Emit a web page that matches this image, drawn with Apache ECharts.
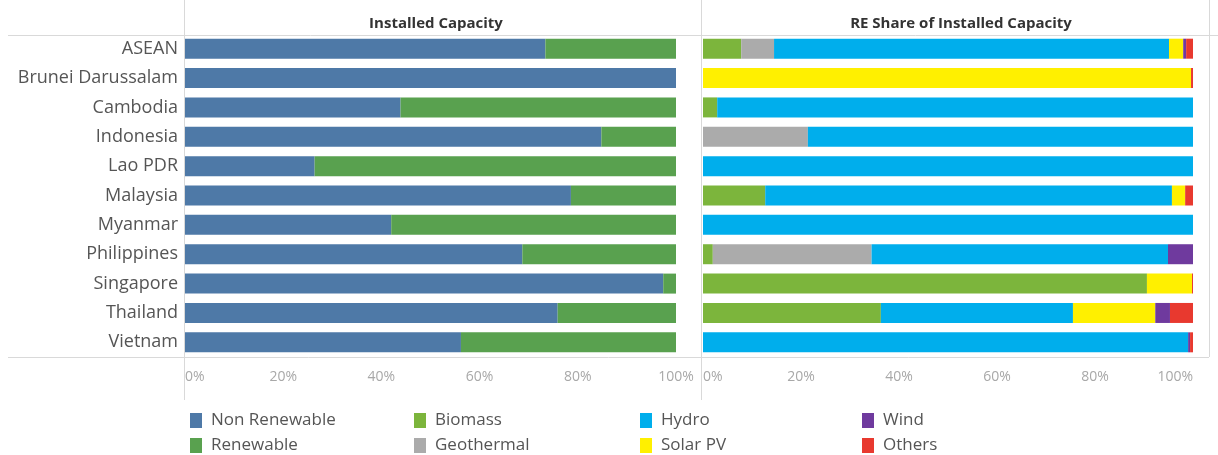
<!DOCTYPE html>
<html>
<head>
<meta charset="utf-8">
<script src="https://cdn.jsdelivr.net/npm/echarts@6/dist/echarts.min.js"></script>
<style>
  html, body { margin: 0; padding: 0; background: #ffffff; }
  #chart { width: 1218px; height: 455px; }
</style>
</head>
<body>
<div id="chart"></div>
<script>
// Countries, top to bottom
const categories = ['ASEAN', 'Brunei Darussalam', 'Cambodia', 'Indonesia', 'Lao PDR', 'Malaysia',
  'Myanmar', 'Philippines', 'Singapore', 'Thailand', 'Vietnam'];

// Installed capacity split (%)
const nonRenewable = [73.4, 100, 43.9, 84.8, 26.4, 78.6, 42.0, 68.7, 97.4, 75.9, 56.2];
const renewable    = [26.6, 0, 56.1, 15.2, 73.6, 21.4, 58.0, 31.3, 2.6, 24.1, 43.8];

// Renewable share by source (%)
const biomass    = [7.8, 0, 2.9, 0, 0, 12.7, 0, 2.0, 90.6, 36.3, 0];
const geothermal = [6.7, 0, 0, 21.4, 0, 0, 0, 32.4, 0, 0, 0];
const hydro      = [80.6, 0, 97.1, 78.6, 100, 83.0, 100, 60.5, 0, 39.2, 99.0];
const solarPV    = [2.9, 99.6, 0, 0, 0, 2.7, 0, 0, 9.2, 16.8, 0];
const wind       = [0.6, 0, 0, 0, 0, 0, 0, 5.1, 0, 3.0, 0.4];
const others     = [1.4, 0.4, 0, 0, 0, 1.6, 0, 0, 0.2, 4.7, 0.6];

const tickValues = [0, 20, 40, 60, 80, 100];

const FONT = '"Open Sans", "Noto Sans", sans-serif';
const LINE = '#d9d9d9';

const chart = echarts.init(document.getElementById('chart'), null, { renderer: 'canvas' });

function xAxisFor(gridIndex, alignMax) {
  return {
    type: 'value', gridIndex: gridIndex, min: tickValues[0], max: tickValues[tickValues.length - 1], interval: 20,
    axisLine: { show: false }, axisTick: { show: false }, splitLine: { show: false },
    axisLabel: {
      formatter: '{value}%', color: '#a8a8a8', fontSize: 14, fontFamily: FONT, margin: 13,
      alignMinLabel: 'left', alignMaxLabel: alignMax
    }
  };
}

function yAxisFor(gridIndex, showLabels) {
  return {
    type: 'category', gridIndex: gridIndex, data: categories, inverse: true,
    axisLine: { show: false }, axisTick: { show: false }, splitLine: { show: false },
    axisLabel: { show: showLabels, color: '#555555', fontSize: 18, fontFamily: FONT, margin: 7 }
  };
}

function bar(name, data, axisIndex, color) {
  return {
    name: name, type: 'bar', stack: 'panel' + axisIndex, data: data,
    xAxisIndex: axisIndex, yAxisIndex: axisIndex, barWidth: 20,
    itemStyle: { color: color }, emphasis: { disabled: true }
  };
}

// one legend entry per component so the 2 x 4 layout is fixed
function legendItem(name, left, top) {
  return {
    data: [name], left: left, top: top, padding: 0,
    itemWidth: 12, itemHeight: 15, icon: 'rect', selectedMode: false, itemGap: 0,
    textStyle: { color: '#555555', fontSize: 17, fontFamily: FONT, padding: [0, 0, 0, 4] }
  };
}

const option = {
  backgroundColor: '#ffffff',
  animation: false,
  title: [
    { text: 'Installed Capacity', left: 431, top: 11, textAlign: 'center',
      textStyle: { fontSize: 15, fontWeight: 'bold', color: '#333333', fontFamily: FONT } },
    { text: 'RE Share of Installed Capacity', left: 956, top: 11, textAlign: 'center',
      textStyle: { fontSize: 15, fontWeight: 'bold', color: '#333333', fontFamily: FONT } }
  ],
  grid: [
    { left: 185, right: 542, top: 34, bottom: 98 },
    { left: 703, right: 25, top: 34, bottom: 98 }
  ],
  xAxis: [xAxisFor(0, 'center'), xAxisFor(1, 'right')],
  yAxis: [yAxisFor(0, true), yAxisFor(1, false)],
  legend: [
    legendItem('Non Renewable', 190, 412),
    legendItem('Renewable', 190, 437),
    legendItem('Biomass', 414, 412),
    legendItem('Geothermal', 414, 437),
    legendItem('Hydro', 640, 412),
    legendItem('Solar PV', 640, 437),
    legendItem('Wind', 862, 412),
    legendItem('Others', 862, 437)
  ],
  series: [
    bar('Non Renewable', nonRenewable, 0, '#4e79a7'),
    bar('Renewable', renewable, 0, '#59a14f'),
    bar('Biomass', biomass, 1, '#7cb53c'),
    bar('Geothermal', geothermal, 1, '#ababab'),
    bar('Hydro', hydro, 1, '#00aeec'),
    bar('Solar PV', solarPV, 1, '#fff000'),
    bar('Wind', wind, 1, '#6f3a9e'),
    bar('Others', others, 1, '#e8392f')
  ],
  // table frame lines
  graphic: [
    { type: 'line', shape: { x1: 8, y1: 35.5, x2: 1218, y2: 35.5 }, style: { stroke: LINE, lineWidth: 1 }, silent: true },
    { type: 'line', shape: { x1: 8, y1: 357.5, x2: 1209, y2: 357.5 }, style: { stroke: LINE, lineWidth: 1 }, silent: true },
    { type: 'line', shape: { x1: 184.5, y1: 0, x2: 184.5, y2: 400 }, style: { stroke: LINE, lineWidth: 1 }, silent: true },
    { type: 'line', shape: { x1: 701.5, y1: 0, x2: 701.5, y2: 400 }, style: { stroke: LINE, lineWidth: 1 }, silent: true },
    { type: 'line', shape: { x1: 1209.5, y1: 0, x2: 1209.5, y2: 357 }, style: { stroke: LINE, lineWidth: 1 }, silent: true }
  ]
};

chart.setOption(option);
</script>
</body>
</html>
